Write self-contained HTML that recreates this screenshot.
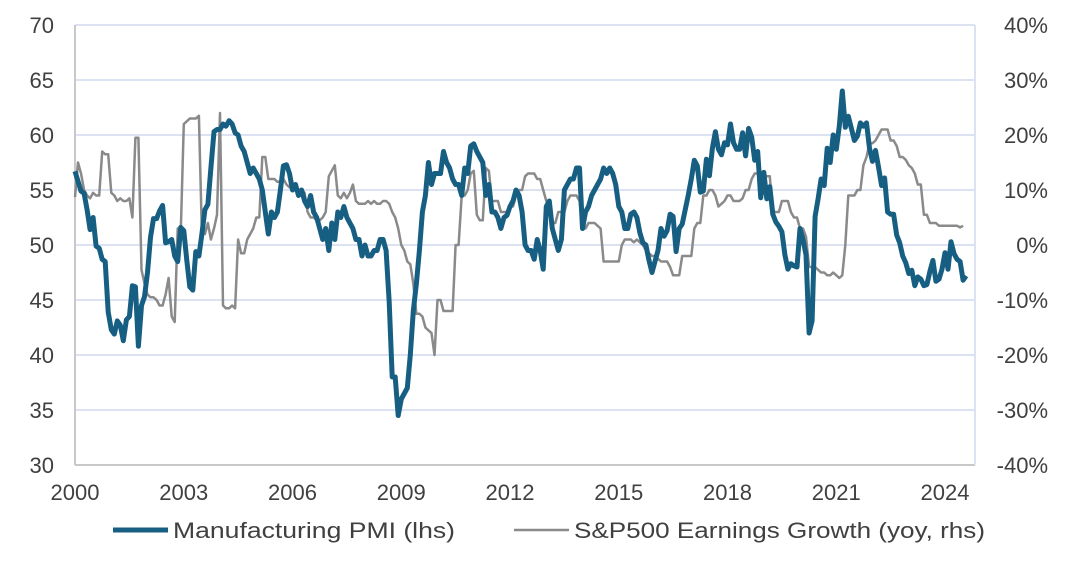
<!DOCTYPE html>
<html><head><meta charset="utf-8"><style>
body{margin:0;background:#fff;}
svg text{font-family:"Liberation Sans",sans-serif;fill:#404040;}
</style></head><body>
<svg id="chart" width="1080" height="564"></svg>
<script>
const pmiStartYear = 2000;
const pmi = [
56.7,55.8,54.9,54.7,53.2,51.4,52.5,49.9,49.7,48.7,48.5,43.9,
42.3,41.9,43.1,42.7,41.3,43.2,43.5,46.3,46.2,40.8,44.5,45.3,
47.5,50.7,52.4,52.4,53.1,53.6,50.2,50.3,50.5,49.0,48.5,51.6,
51.3,48.6,46.2,45.9,49.4,49.0,51.0,53.2,53.7,57.0,60.3,60.5,
60.5,61.0,60.8,61.3,61.0,60.2,60.0,59.0,58.5,57.5,56.5,57.0,
56.5,56.0,55.0,53.0,51.0,53.0,52.5,53.0,55.0,57.2,57.3,56.5,
55.0,55.5,54.5,55.0,54.0,53.5,54.5,53.0,52.5,51.5,50.5,51.5,
49.5,52.0,50.5,53.0,52.5,53.5,52.5,52.0,51.5,50.5,50.5,49.0,
50.0,49.0,49.0,49.5,49.5,50.5,50.5,49.5,44.8,38.0,38.0,34.5,
36.0,36.5,37.0,40.0,44.0,46.5,49.5,53.0,54.5,57.5,55.5,56.5,
56.5,56.5,58.5,57.5,57.0,56.0,55.5,55.5,54.5,57.0,56.5,59.0,
59.2,58.5,58.0,57.5,54.5,55.5,53.0,53.0,52.5,51.5,52.5,52.7,
53.5,54.0,55.0,54.5,53.0,50.0,49.5,49.5,48.7,50.5,49.5,47.8,
53.5,54.0,51.5,50.5,49.5,50.5,55.0,55.5,56.0,56.0,57.0,57.0,
51.5,53.0,53.5,54.5,55.0,55.5,56.0,57.0,56.5,57.0,56.5,55.5,
53.5,53.0,51.5,51.5,52.8,53.0,52.5,51.1,50.2,50.0,48.6,47.5,
48.5,49.5,51.5,50.8,51.3,52.8,52.6,49.4,51.5,51.9,53.2,54.5,
56.0,57.7,57.2,54.8,54.9,57.8,56.3,58.8,60.3,58.7,58.2,59.3,
59.1,61.0,59.3,58.7,58.7,60.2,58.1,60.6,59.8,57.7,58.5,54.3,
56.6,54.2,55.3,52.8,52.1,51.7,51.2,49.1,47.8,48.3,48.1,48.0,
51.5,50.5,49.1,42.0,43.1,52.6,54.2,56.0,55.4,58.8,57.5,60.0,
58.7,60.8,64.0,60.7,61.7,60.6,59.5,59.9,61.1,60.8,61.1,58.8,
57.6,58.6,57.1,55.4,56.1,53.0,52.8,52.8,50.9,50.2,49.0,48.4,
47.4,47.7,46.3,47.1,46.9,46.3,46.4,47.6,48.6,46.7,46.9,47.8,
49.3,47.8,50.3,49.2,48.7,48.5,46.8,47.2
];
const earnings = [
8.7,15,13,10,9,8.5,9.5,9,9,17,16.5,16.5,
9.5,9,8,8.5,8,8,8.5,5,19.5,19.5,-4.5,-7,
-9,-9.5,-9.5,-10,-11,-11,-9,-6,-13,-14,3,2,
22,22.5,23,23,23,23.5,2,2,4,1,3,5.5,
24,-11,-11.5,-11.5,-11,-11.5,1,-1.5,-1.5,1,2,3,
5,5,16,16,12,12,12,11.5,11.5,12,11,10.5,
11,10.5,9,10,9.5,6,5,5,4.5,4.5,5,6,
12.5,13.5,14.5,9,8.5,9.5,8.5,9.5,11,8,7.5,7.5,
7.5,8,7.5,8,7.5,7.5,8,8,7.5,6,5,3,
0,-1,-3,-3.5,-7,-12.5,-12.5,-13,-15,-15.5,-16,-20,
-10,-10,-12,-12,-12,-12,0,0,9,9,10,13,
13.5,5.5,4.5,4.5,14,13.5,8,8,8,6,6,6,
7,7,9,10,10,12.5,13,13,13,12,12,10,
8,7,4,4,6,6,6,8,9,9,9,8,
3,3,4,4,4,3.5,3,-3,-3,-3,-3,-3,
-3,0,1,1,1,0.5,1,0.5,0,-1,-1.5,-2,
-2,-2.5,-3,-3,-3,-4,-5.5,-5.5,-5.5,-2,-2,-2,
-2,3,4,4,9,9,10,10,9,7,7.5,8,
9,9,8,8,8,8.5,10,10,12,13,13,12.5,
13,12.5,12.5,6,6,6,8,8,8,6,5,5,
3,3,1.5,-4,-4,-4,-4.5,-5,-5,-5.5,-5.5,-5,
-5.5,-6,-5.5,0,9,9,9,10,10,14.5,16,18.5,
18.5,19,20,21,21,21,19,19,18,16,16,15.5,
14.5,14,13,11,11,5.5,5.5,4,4,4,3.5,3.5,
3.5,3.5,3.5,3.5,3.5,3.2,3.5
];
const leftTicks = [30,35,40,45,50,55,60,65,70];
const rightTicks = ["-40%","-30%","-20%","-10%","0%","10%","20%","30%","40%"];
const xTicks = [2000,2003,2006,2009,2012,2015,2018,2021,2024];

const NS="http://www.w3.org/2000/svg";
const svg=document.getElementById('chart');
const X0=75,X1=975,Y0=25,Y1=465,PX_YEAR=36.25;
const xYear=y=>X0+(y-2000)*PX_YEAR;
const xM=i=>xYear(pmiStartYear+i/12);
const yL=v=>Y1-(v-30)*(Y1-Y0)/40;
const yR=p=>Y1-(p+40)*(Y1-Y0)/80;
function mk(tag,attrs,parent){const e=document.createElementNS(NS,tag);for(const k in attrs)e.setAttribute(k,attrs[k]);(parent||svg).appendChild(e);return e;}

leftTicks.forEach((v,i)=>{
  const g=mk('line',{x1:X0,x2:X1,y1:yL(v),y2:yL(v),stroke:i===0?'#c8c8c8':'#dde2f3','stroke-width':2});
  
  
  const t=mk('text',{x:54,y:yL(v)+8,'text-anchor':'end','font-size':22});
  t.textContent=v;
  
  
});
rightTicks.forEach((s,i)=>{
  const t=mk('text',{x:1048,y:yR(-40+i*10)+8,'text-anchor':'end','font-size':22});
  t.textContent=s;
  
  
});
const la=mk('line',{x1:X0,x2:X0,y1:Y0,y2:Y1,stroke:'#c8c8c8','stroke-width':2});


const ra=mk('line',{x1:X1,x2:X1,y1:Y0,y2:Y1,stroke:'#dde2f3','stroke-width':2});


xTicks.forEach(y=>{
  const t=mk('text',{x:xYear(y),y:500,'text-anchor':'middle','font-size':22});
  t.textContent=y;
  
  
});
const ep=mk('polyline',{points:earnings.map((v,i)=>xM(i).toFixed(1)+','+yR(v).toFixed(1)).join(' '),fill:'none',stroke:'#8a8a8a','stroke-width':2.5,'stroke-linejoin':'round'});


const pp=mk('polyline',{points:pmi.map((v,i)=>xM(i).toFixed(1)+','+yL(v).toFixed(1)).join(' '),fill:'none',stroke:'#175f82','stroke-width':5,'stroke-linejoin':'round'});



const l1=mk('line',{x1:113,x2:168,y1:530,y2:530,stroke:'#175f82','stroke-width':5});


const t1=mk('text',{x:173,y:538,'font-size':22,textLength:282,lengthAdjust:'spacingAndGlyphs'});
t1.textContent='Manufacturing PMI (lhs)';


const l2=mk('line',{x1:514,x2:569,y1:530,y2:530,stroke:'#8a8a8a','stroke-width':2.5});


const t2=mk('text',{x:574,y:538,'font-size':22,textLength:411,lengthAdjust:'spacingAndGlyphs'});
t2.textContent='S&P500 Earnings Growth (yoy, rhs)';


</script>
</body></html>
